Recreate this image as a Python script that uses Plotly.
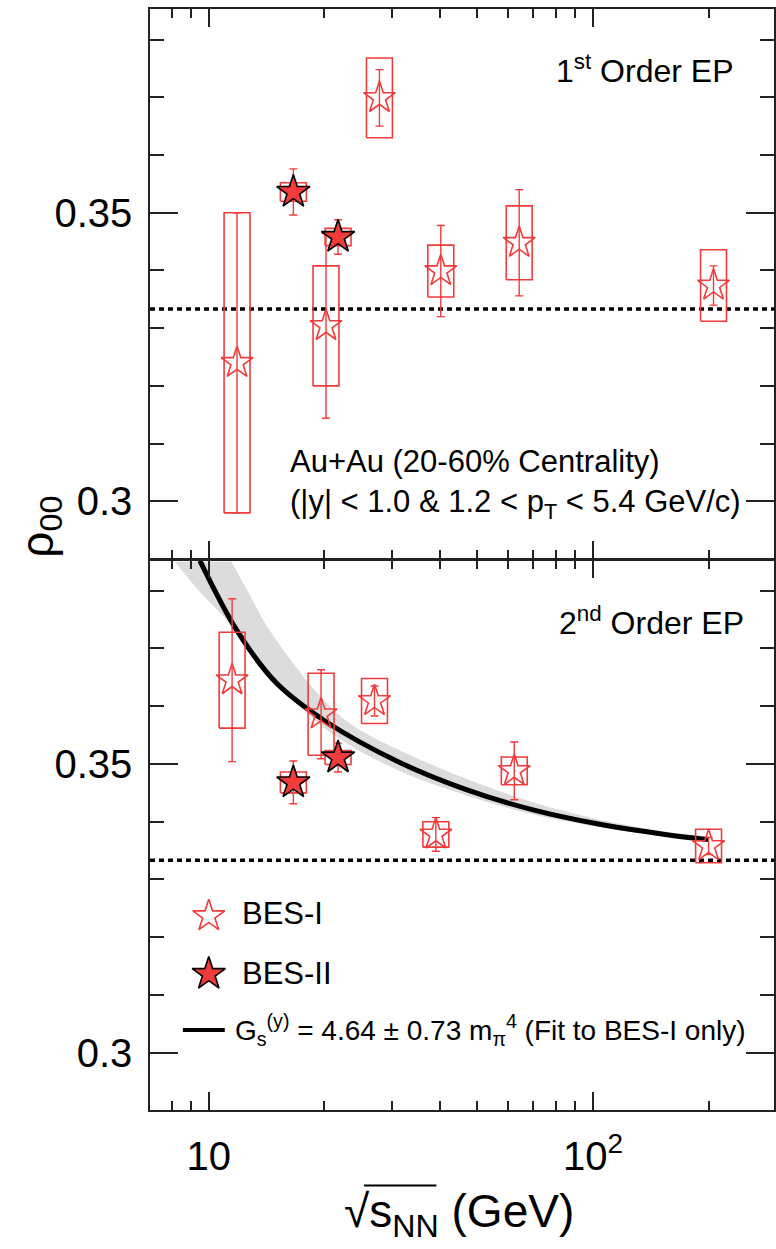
import math
import plotly.graph_objects as go

# ---------------- data ----------------
bes1_energy = [11.5, 19.6, 27.0, 39.0, 62.4, 200.0]
bes2_energy = [16.6, 21.7]          # plotted positions of BES-II 14.6 / 19.6 GeV (shifted for clarity)
top_shift = 1.03                    # BES-I points in the 1st-order panel are shifted slightly right

# 1st order event plane
ep1_bes1_rho = [0.3240, 0.3304, 0.3699, 0.3399, 0.3448, 0.3374]
ep1_bes1_stat = [0.0260, 0.0160, 0.0049, 0.0079, 0.0092, 0.0034]
ep1_bes1_sys = [0.0260, 0.0104, 0.0069, 0.0045, 0.0064, 0.0062]
ep1_bes2_rho = [0.3536, 0.3458]
ep1_bes2_stat = [0.0040, 0.0030]
ep1_bes2_sys = [0.0016, 0.0015]

# 2nd order event plane
ep2_bes1_rho = [0.3645, 0.3586, 0.3609, 0.3378, 0.3488, 0.3358]
ep2_bes1_stat = [0.0141, 0.0077, 0.0026, 0.0029, 0.0050, 0.0015]
ep2_bes1_sys = [0.0083, 0.0071, 0.0039, 0.0022, 0.0024, 0.0029]
ep2_bes2_rho = [0.3468, 0.3511]
ep2_bes2_stat = [0.0037, 0.0025]
ep2_bes2_sys = [0.0018, 0.0012]

# fit curve and its uncertainty band (2nd order panel)
fit_x = [9.48, 11.91, 15.0, 20.2, 31.3, 46.6, 69.4, 103.5, 154.1, 199.7]
fit_y = [0.3852, 0.3728, 0.3640, 0.3573, 0.3503, 0.3456, 0.3421, 0.3396, 0.3378, 0.3369]
band_up_x = [11.45, 12.65, 14.12, 16.23, 19.03, 23.2, 31.3, 46.6, 69.4, 103.5, 154.1, 199.7]
band_up_y = [0.3850, 0.3798, 0.3740, 0.3683, 0.3625, 0.3571, 0.3524, 0.3475, 0.3434, 0.3404, 0.3383, 0.3372]
band_lo_x = [8.16, 9.475, 11.45, 13.30, 20.2, 31.3, 46.6, 69.4, 103.5, 154.1, 199.7]
band_lo_y = [0.3850, 0.3798, 0.3740, 0.3683, 0.3560, 0.3488, 0.3446, 0.3413, 0.3391, 0.3375, 0.3367]

rho_unpolarized = 1.0 / 3.0

x_major = [10, 100]
x_major_text = ["10", "10<sup>2</sup>"]
x_minor = [8, 9, 20, 30, 40, 50, 60, 70, 80, 90, 200]
y_major = [0.30, 0.35]
y_major_text = ["0.3", "0.35"]
y_minor = [0.31, 0.32, 0.33, 0.34, 0.36, 0.37, 0.38]

# ---------------- styling ----------------
RED = "#f23b3b"
FONT = "Liberation Sans, Arial, Helvetica, sans-serif"
BOX_F = 10 ** (13.0 / 385.3)   # half-width of systematic boxes (13 px in log space)
STAR = 24

fig = go.Figure()


def box_trace(xs, ys, sys, xa, ya):
    bx, by = [], []
    for x, y, s in zip(xs, ys, sys):
        x0, x1 = x / BOX_F, x * BOX_F
        bx += [x0, x1, x1, x0, x0, None]
        by += [y - s, y - s, y + s, y + s, y - s, None]
    return go.Scatter(x=bx, y=by, mode="lines", line=dict(color=RED, width=1.6),
                      xaxis=xa, yaxis=ya, hoverinfo="skip")


def pts(xs, ys, stat, xa, ya, filled):
    if filled:
        mk = dict(symbol="star", size=STAR + 1, color=RED, line=dict(color="black", width=1.6))
    else:
        mk = dict(symbol="star-open", size=STAR, color=RED, line=dict(color=RED, width=1.6))
    return go.Scatter(x=xs, y=ys, mode="markers", marker=mk,
                      error_y=dict(type="data", array=stat, visible=True, color=RED,
                                   thickness=1.4, width=4),
                      xaxis=xa, yaxis=ya)


def unpol_line(xa, ya):
    # horizontal reference line rho00 = 1/3 across the full x range
    return go.Scatter(x=[10 ** xrange[0], 10 ** xrange[1]], y=[rho_unpolarized] * 2,
                      mode="lines", line=dict(color="black", width=3.5, dash="5px,4px"),
                      xaxis=xa, yaxis=ya, hoverinfo="skip")


xrange = [math.log10(7.03), math.log10(296.0)]

# ---- band + fit (bottom panel) ----
fig.add_trace(go.Scatter(x=band_up_x + band_lo_x[::-1], y=band_up_y + band_lo_y[::-1],
                         mode="lines", fill="toself", fillcolor="#dcdcdc",
                         line=dict(width=0, color="#dcdcdc", shape="spline"),
                         xaxis="x", yaxis="y", hoverinfo="skip"))
fig.add_trace(unpol_line("x", "y"))
fig.add_trace(go.Scatter(x=fit_x, y=fit_y, mode="lines",
                         line=dict(color="black", width=5, shape="spline", smoothing=1.0),
                         xaxis="x", yaxis="y"))

top_x = [e * top_shift for e in bes1_energy]

# ---- top panel ----
fig.add_trace(unpol_line("x2", "y2"))
fig.add_trace(box_trace(top_x, ep1_bes1_rho, ep1_bes1_sys, "x2", "y2"))
fig.add_trace(box_trace(bes2_energy, ep1_bes2_rho, ep1_bes2_sys, "x2", "y2"))
fig.add_trace(pts(top_x, ep1_bes1_rho, ep1_bes1_stat, "x2", "y2", False))
fig.add_trace(pts(bes2_energy, ep1_bes2_rho, ep1_bes2_stat, "x2", "y2", True))

# ---- bottom panel ----
fig.add_trace(box_trace(bes1_energy, ep2_bes1_rho, ep2_bes1_sys, "x", "y"))
fig.add_trace(box_trace(bes2_energy, ep2_bes2_rho, ep2_bes2_sys, "x", "y"))
fig.add_trace(pts(bes1_energy, ep2_bes1_rho, ep2_bes1_stat, "x", "y", False))
fig.add_trace(pts(bes2_energy, ep2_bes2_rho, ep2_bes2_stat, "x", "y", True))

# ---- legend keys (overlay axes on bottom panel, [0,1] x [0,1]) ----
leg_x = 0.0942
fig.add_trace(go.Scatter(x=[leg_x], y=[0.3527], mode="markers",
                         marker=dict(symbol="star-open", size=STAR, color=RED,
                                     line=dict(color=RED, width=1.6)),
                         xaxis="x3", yaxis="y3"))
fig.add_trace(go.Scatter(x=[leg_x], y=[0.2473], mode="markers",
                         marker=dict(symbol="star", size=STAR + 1, color=RED,
                                     line=dict(color="black", width=1.6)),
                         xaxis="x3", yaxis="y3"))
fig.add_trace(go.Scatter(x=[0.0527, 0.1198], y=[0.1455, 0.1455], mode="lines",
                         line=dict(color="black", width=4), xaxis="x3", yaxis="y3"))

# overline of the square-root sign in the x title
fig.add_shape(type="line", xref="paper", yref="paper", x0=0.343, x1=0.459,
              y0=-0.0685, y1=-0.0685, line=dict(color="black", width=2))

split = 550.0 / 1101.0
common_x = dict(type="log", range=xrange, showgrid=False, zeroline=False,
                showline=True, linecolor="#222", linewidth=1.5, mirror="ticks",
                ticks="inside", ticklen=18, tickwidth=1.5, tickcolor="#222",
                tickmode="array", tickvals=x_major, ticktext=x_major_text,
                minor=dict(tickmode="array", tickvals=x_minor, ticks="inside",
                           ticklen=9, tickwidth=1.5, tickcolor="#222"),
                tickfont=dict(size=40, family=FONT, color="black"))
common_y = dict(range=[0.2901, 0.3853], showgrid=False, zeroline=False,
                showline=True, linecolor="#222", linewidth=1.5, mirror="ticks",
                ticks="inside", ticklen=28, tickwidth=1.5, tickcolor="#222",
                tickmode="array", tickvals=y_major, ticktext=y_major_text,
                minor=dict(tickmode="array", tickvals=y_minor, ticks="inside",
                           ticklen=14, tickwidth=1.5, tickcolor="#222"),
                tickfont=dict(size=40, family=FONT, color="black"),
                ticklabelstandoff=8)

fig.update_layout(
    width=776, height=1249,
    margin=dict(l=150, r=0, t=9, b=139),
    paper_bgcolor="white", plot_bgcolor="rgba(0,0,0,0)", showlegend=False,
    font=dict(family=FONT, color="black"),
    xaxis=dict(**common_x, anchor="y", domain=[0, 1], ticklabelstandoff=10),
    xaxis2=dict(**common_x, anchor="y2", domain=[0, 1], matches="x", showticklabels=False),
    yaxis=dict(**common_y, anchor="x", domain=[0, split]),
    yaxis2=dict(**common_y, anchor="x2", domain=[split + 1.5 / 1101.0, 1]),
    xaxis3=dict(range=[0, 1], anchor="y3", visible=False, overlaying="x"),
    yaxis3=dict(range=[0, 1], anchor="x3", visible=False, overlaying="y"),
)

ann = []
def txt(text, x, y, xref, yref, size, xanchor="left", yanchor="middle", angle=0):
    ann.append(dict(text=text, x=x, y=y, xref=xref, yref=yref, showarrow=False,
                    xanchor=xanchor, yanchor=yanchor, textangle=angle,
                    font=dict(size=size, family=FONT, color="black")))

txt("1<sup>st</sup> Order EP", 0.9377, 0.89, "x2 domain", "y2 domain", 32, xanchor="right")
txt("2<sup>nd</sup> Order EP", 0.9553, 0.89, "x domain", "y domain", 32, xanchor="right")
txt("Au+Au (20-60% Centrality)", 0.2204, 0.176, "x2 domain", "y2 domain", 31)
txt("(|y| < 1.0 &amp; 1.2 < p<sub>T</sub> < 5.4 GeV/c)", 0.2204, 0.100, "x2 domain", "y2 domain", 31)
txt("BES-I", 0.1438, 0.3564, "x domain", "y domain", 31)
txt("BES-II", 0.1438, 0.2473, "x domain", "y domain", 31)
txt("G<sub>s</sub><sup>(y)</sup> = 4.64 ± 0.73 m<sub>π</sub><sup>4</sup> (Fit to BES-I only)",
    0.1326, 0.1455, "x domain", "y domain", 28)
# axis titles
txt("√s<sub>NN</sub> (GeV)", 0.495, -0.095, "paper", "paper", 46, xanchor="center")
txt("ρ<sub>00</sub>", -0.176, 0.530, "paper", "paper", 46, xanchor="center", angle=-90)
fig.update_layout(annotations=ann)

fig.write_html("out.html")
